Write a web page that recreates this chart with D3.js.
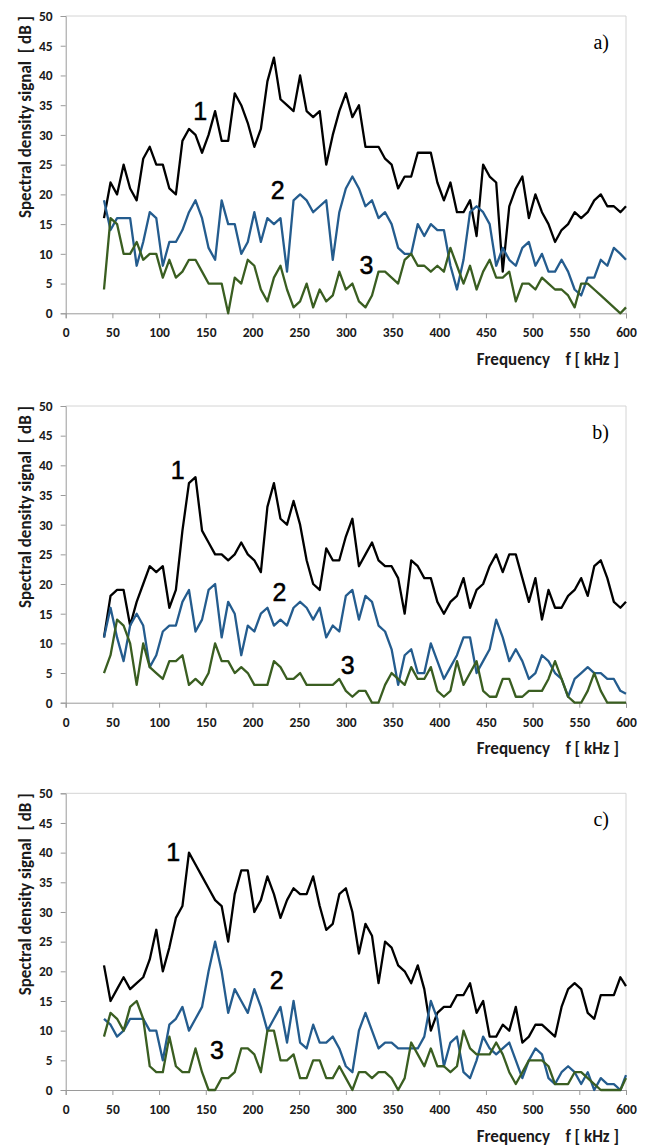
<!DOCTYPE html>
<html>
<head>
<meta charset="UTF-8">
<title>Spectral density</title>
<script src="https://d3js.org/d3.v7.min.js"></script>
<style>
  body { margin: 0; background: #fff; }
  svg { display: block; }
  .tick text { font-family: Carlito, Lato, "Open Sans", sans-serif; font-weight: 700; font-size: 13.5px; fill: #1a1a1a; }
  .axis path, .axis line { stroke: #9a9a9a; }
</style>
</head>
<body>
<svg id="chart"></svg>
<script>
const W = 650, H = 1148;

// frequency points, kHz
const freqs = [41,48,55,62,69,76,83,90,97,104,111,118,125,132,139,146,153,160,167,174,181,
  188,195,202,209,216,223,230,237,244,251,258,265,272,279,286,293,300,307,314,321,
  328,335,342,349,356,363,370,377,384,391,398,405,412,419,426,433,440,447,454,461,
  468,475,482,489,496,503,510,517,524,531,538,545,552,559,566,573,580,587,594,600];

// panel a
const a1 = [16,22,20,25,21,19,26,28,25,25,21,20,29,31,30,27,30,34,29,29,37,
  35,32,28,31,39,43,36,35,34,40,34,33,34,25,30,34,37,33,35,28,28,28,26,25,21,23,23,27,27,27,
  22,19,22,17,17,19,13,25,23,22,7,18,21,23,16,20,17,15,12,14,15,17,16,17,19,20,18,18,17,18];
const a2 = [19,14,16,16,16,8,12,17,16,8,12,12,14,17,19,16,11,9,19,15,15,
  10,12,17,12,16,15,16,7,19,20,19,17,18,19,9,17,21,23,21,18,19,16,17,15,11,10,10,15,13,15,
  14,14,8,4,9,17,18,17,15,8,11,9,8,11,12,8,10,7,7,9,7,4,3,6,6,9,8,11,10,9];
const a3 = [4,16,15,10,10,12,9,10,10,6,9,6,7,9,9,7,5,5,5,0,6,
  5,9,8,4,2,6,8,4,1,2,5,1,4,2,3,7,4,5,2,1,3,7,7,6,5,9,10,8,8,7,
  8,7,11,8,5,8,4,7,9,6,6,7,2,5,5,4,6,5,4,4,3,1,5,5,4,3,2,1,0,1];

// panel b
const b1 = [11,18,19,19,13,17,20,23,22,23,16,19,29,37,38,29,27,25,25,24,25,
  27,25,24,22,33,37,31,30,34,30,24,20,19,26,24,24,28,31,23,25,27,24,23,23,21,15,24,23,21,21,
  17,15,17,18,21,16,19,20,23,25,22,25,25,21,17,21,14,19,16,16,18,19,21,18,23,24,21,17,16,17];
const b2 = [11,16,11,7,13,15,13,6,8,12,13,13,17,19,12,14,19,20,11,17,15,
  8,13,12,15,16,13,14,13,16,17,16,14,16,11,13,12,18,19,14,18,17,13,12,9,3,8,9,5,5,10,
  7,4,6,8,11,11,5,7,9,14,11,7,9,7,4,5,8,7,5,4,1,4,5,6,5,5,4,4,2,1.5];
const b3 = [5,8,14,13,10,3,10,6,5,4,7,7,8,3,4,3,5,10,7,7,5,
  6,5,3,3,3,7,6,4,4,5,3,3,3,3,3,4,2,1,2,2,0,0,3,5,4,3,6,4,4,6,
  2,1,2,7,3,5,7,2,1,1,4,4,1,1,2,2,2,4,7,4,1,0,0,2,5,2,0,0,0,0];

// panel c
const c1 = [21,15,17,19,17,18,19,22,27,20,24,29,31,40,38,36,34,32,31,25,33,
  37,37,30,32,36,33,29,32,34,33,33,36,31,27,28,33,34,30,23,28,26,18,25,24,21,20,18,21,17,10,
  13,14,14,16,16,18,13,15,9,9,11,10,14,8,9,11,11,10,9,14,17,18,17,13,12,16,16,16,19,17.5];
const c2 = [12,11,9,10,12,12,12,10,10,5,11,12,14,10,12,14,20,25,20,13,17,
  15,13,17,14,10,12,14,8,15,8,7,11,8,8,9,7,4,3,10,13,10,7,8,8,7,7,7,7,9,15,
  12,4,8,9,3,2,5,9,7,6,7,8,5,2,5,7,6,2,1,3,4,3,1,3,0,2,1,1,0,2.5];
const c3 = [9,13,12,10,14,15,12,4,3,3,9,4,3,3,7,3,0,0,2,2,3,
  7,7,6,3,10,10,5,5,6,2,2,5,5,2,2,4,2,0,3,3,2,3,3,2,0,2,8,6,4,7,
  4,4,3,4,10,7,6,6,6,8,6,3,1,3,5,5,5,4,1,1,1,3,3,2,1,0,0,0,0,2];

// curve number labels: [freq, dB]
const labA = [[144, 34], [227, 20.7], [322, 8.1]];
const labB = [[120, 39.2], [229, 18.7], [302, 6.4]];
const labC = [[115, 40.1], [226, 18.5], [162, 6.7]];

const xTicks = [0,50,100,150,200,250,300,350,400,450,500,550,600];
const yTicks = [0,5,10,15,20,25,30,35,40,45,50];
const colors = ["#000000", "#245c8e", "#3a5e21"];

const panels = [
  {tag: "a)", top: 16,    bottom: 313.3, series: [a1, a2, a3], labels: labA},
  {tag: "b)", top: 406,   bottom: 702.7, series: [b1, b2, b3], labels: labB},
  {tag: "c)", top: 793.3, bottom: 1090,  series: [c1, c2, c3], labels: labC}
];

const svg = d3.select("#chart").attr("width", W).attr("height", H);
const x = d3.scaleLinear().domain([0, 600]).range([65.7, 626]);

panels.forEach(p => {
  const y = d3.scaleLinear().domain([0, 50]).range([p.bottom, p.top]);
  const g = svg.append("g");

  // light frame top / right
  g.append("path")
    .attr("d", `M${x(0)},${p.top}H${x(600)}V${p.bottom}`)
    .attr("fill", "none").attr("stroke", "#d4d4d4").attr("stroke-width", 1);

  g.append("g").attr("class", "axis")
    .attr("transform", `translate(0,${p.bottom})`)
    .call(d3.axisBottom(x).tickValues(xTicks).tickSize(5).tickPadding(7))
    .call(s => s.selectAll("text").attr("dy", "0.9em"));

  g.append("g").attr("class", "axis")
    .attr("transform", `translate(${x(0)},0)`)
    .call(d3.axisLeft(y).tickValues(yTicks).tickSize(5).tickPadding(8));

  const line = d3.line().x((d, i) => x(freqs[i])).y(d => y(d));
  p.series.forEach((s, k) => {
    g.append("path").datum(s)
      .attr("fill", "none")
      .attr("stroke", colors[k])
      .attr("stroke-width", 2.3)
      .attr("stroke-linejoin", "round")
      .attr("d", line);
  });

  g.selectAll(".num").data(p.labels).join("text")
    .attr("x", d => x(d[0])).attr("y", d => y(d[1]))
    .attr("text-anchor", "middle").attr("dominant-baseline", "central")
    .attr("font-family", "Liberation Sans, Arial, sans-serif")
    .attr("font-size", 25).attr("fill", "#000")
    .attr("stroke", "#000").attr("stroke-width", 0.5)
    .text((d, i) => i + 1);

  g.append("text")
    .attr("x", 609).attr("y", p.top + 33)
    .attr("text-anchor", "end")
    .attr("font-family", "Liberation Serif, Times New Roman, serif")
    .attr("font-size", 20).attr("fill", "#000")
    .text(p.tag);

  g.append("text")
    .attr("transform", `translate(25,${p.top + 101}) rotate(-90)`)
    .attr("text-anchor", "middle").attr("dominant-baseline", "central")
    .attr("font-family", "Carlito, Lato, Open Sans, sans-serif")
    .attr("font-weight", 700).attr("font-size", 17).attr("fill", "#1a1a1a")
    .style("white-space", "pre")
    .text("Spectral density signal  [ dB ]");

  g.append("text")
    .attr("x", 619).attr("y", p.bottom + 46)
    .attr("text-anchor", "end").attr("dominant-baseline", "central")
    .attr("font-family", "Carlito, Lato, Open Sans, sans-serif")
    .attr("font-weight", 700).attr("font-size", 17).attr("fill", "#1a1a1a")
    .style("white-space", "pre")
    .text("Frequency    f [ kHz ]");
});
</script>
</body>
</html>
